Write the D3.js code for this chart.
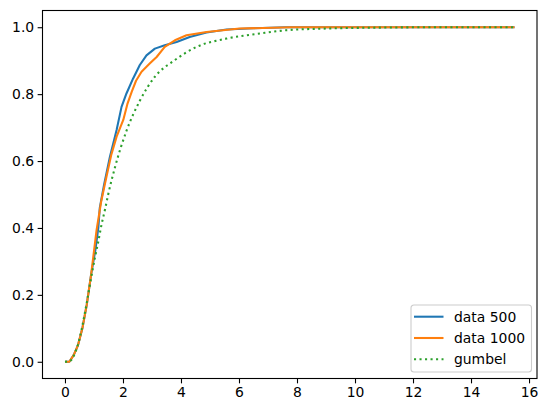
<!DOCTYPE html>
<html lang="en">
<head>
  <meta charset="utf-8">
  <script src="https://cdn.jsdelivr.net/npm/d3@7"></script>
  <style>
    body { margin: 0; background: #fff; }
    text { font-family: "DejaVu Sans", sans-serif; fill: #000; }
  </style>
</head>
<body>
<script>

  // series
  const blueX = [0, 0.15, 0.3, 0.45, 0.6, 0.75, 0.9, 1.05, 1.15, 1.2, 1.35, 1.55, 1.78, 1.95, 2.12, 2.35, 2.58, 2.81, 3.1, 3.44, 3.85, 4.3, 4.88, 5.57, 6.5, 7.6, 10, 15.5];
  const blueY = [0, 0, 0.02, 0.05, 0.1, 0.17, 0.26, 0.335, 0.4, 0.46, 0.53, 0.613, 0.693, 0.762, 0.802, 0.847, 0.887, 0.916, 0.936, 0.946, 0.956, 0.971, 0.984, 0.993, 0.997, 1.0, 1.0, 1.0];

  const orangeX = [0, 0.15, 0.3, 0.45, 0.6, 0.75, 0.9, 1.09, 1.25, 1.43, 1.6, 1.78, 2.01, 2.15, 2.3, 2.45, 2.64, 2.93, 3.16, 3.44, 3.79, 4.19, 4.88, 6.02, 7.8, 15.5];
  const orangeY = [0, 0, 0.02, 0.05, 0.1, 0.17, 0.26, 0.394, 0.48, 0.553, 0.62, 0.673, 0.723, 0.77, 0.807, 0.84, 0.867, 0.892, 0.911, 0.941, 0.961, 0.976, 0.986, 0.996, 1.0, 1.0];

  const gumbelX = [0, 0.17, 0.34, 0.46, 0.57, 0.69, 0.8, 0.91, 1.03, 1.15, 1.26, 1.38, 1.49, 1.72, 2.12, 2.58, 3.1, 3.79, 4.53, 5.57, 6.71, 7.63, 9, 11, 13, 15.5];
  const gumbelY = [0, 0.002, 0.025, 0.055, 0.095, 0.148, 0.2, 0.255, 0.31, 0.36, 0.41, 0.455, 0.5, 0.58, 0.69, 0.78, 0.852, 0.902, 0.941, 0.966, 0.981, 0.991, 0.996, 0.999, 1.0, 1.0];

  const xTicks = [0, 2, 4, 6, 8, 10, 12, 14, 16];
  const yTicks = [0, 0.2, 0.4, 0.6, 0.8, 1.0];

  const seriesNames = ["data 500", "data 1000", "gumbel"];
  const seriesColors = ["#1f77b4", "#ff7f0e", "#2ca02c"];

  const w = 548;
  const h = 413;
  const margin = {top: 10.5, right: 11, bottom: 34.5, left: 42.5};

  const svg = d3.select("body")
    .append("svg")
    .attr("width", w)
    .attr("height", h);

  const xScale = d3.scaleLinear()
    .domain([-0.775, 16.275])
    .range([margin.left, w - margin.right]);

  const yScale = d3.scaleLinear()
    .domain([-0.05, 1.05])
    .range([h - margin.bottom, margin.top]);

  const zip = (xs, ys) => xs.map((x, i) => [x, ys[i]]);

  const line = d3.line()
    .x(d => xScale(d[0]))
    .y(d => yScale(d[1]));

  const smooth = d3.line()
    .curve(d3.curveMonotoneX)
    .x(d => xScale(d[0]))
    .y(d => yScale(d[1]));

  const plot = svg.append("g");

  plot.append("path")
    .datum(zip(blueX, blueY))
    .attr("d", line)
    .attr("fill", "none")
    .attr("stroke", seriesColors[0])
    .attr("stroke-width", 2.08)
    .attr("stroke-linejoin", "round");

  plot.append("path")
    .datum(zip(orangeX, orangeY))
    .attr("d", line)
    .attr("fill", "none")
    .attr("stroke", seriesColors[1])
    .attr("stroke-width", 2.08)
    .attr("stroke-linejoin", "round");

  plot.append("path")
    .datum(zip(gumbelX, gumbelY))
    .attr("d", smooth)
    .attr("fill", "none")
    .attr("stroke", seriesColors[2])
    .attr("stroke-width", 2.08)
    .attr("stroke-dasharray", "2.08 3.43");

  // axes
  const xAxis = d3.axisBottom(xScale)
    .tickValues(xTicks)
    .tickFormat(d3.format("d"))
    .tickSize(4.86)
    .tickPadding(3.5);

  svg.append("g")
    .attr("transform", "translate(0," + (h - margin.bottom) + ")")
    .call(xAxis)
    .call(g => g.select(".domain").remove())
    .call(g => g.selectAll("line").attr("stroke-width", 1.1))
    .call(g => g.selectAll("text").style("font-size", "13.9px").style("font-family", "DejaVu Sans"));

  const yAxis = d3.axisLeft(yScale)
    .tickValues(yTicks)
    .tickFormat(d3.format(".1f"))
    .tickSize(4.86)
    .tickPadding(3.5);

  svg.append("g")
    .attr("transform", "translate(" + margin.left + ",0)")
    .call(yAxis)
    .call(g => g.select(".domain").remove())
    .call(g => g.selectAll("line").attr("stroke-width", 1.1))
    .call(g => g.selectAll("text").style("font-size", "13.9px").style("font-family", "DejaVu Sans"));

  svg.append("rect")
    .attr("x", margin.left)
    .attr("y", margin.top)
    .attr("width", w - margin.right - margin.left)
    .attr("height", h - margin.bottom - margin.top)
    .attr("fill", "none")
    .attr("stroke", "#000")
    .attr("stroke-width", 1.1);

  // legend
  const legend = svg.append("g")
    .attr("transform", "translate(411,305)");

  legend.append("rect")
    .attr("width", 120.5)
    .attr("height", 67)
    .attr("rx", 3)
    .attr("fill", "#fff")
    .attr("fill-opacity", 0.8)
    .attr("stroke", "#ccc")
    .attr("stroke-width", 1.1);

  seriesNames.forEach((name, i) => {
    const y = 11.7 + i * 21.3;
    legend.append("line")
      .attr("x1", 3)
      .attr("x2", 32.5)
      .attr("y1", y)
      .attr("y2", y)
      .attr("stroke", seriesColors[i])
      .attr("stroke-width", 2.08)
      .attr("stroke-dasharray", i === 2 ? "2.08 3.43" : null);
    legend.append("text")
      .attr("x", 43)
      .attr("y", y)
      .attr("dy", "0.35em")
      .style("font-size", "13.9px")
      .text(name);
  });

</script>
</body>
</html>
